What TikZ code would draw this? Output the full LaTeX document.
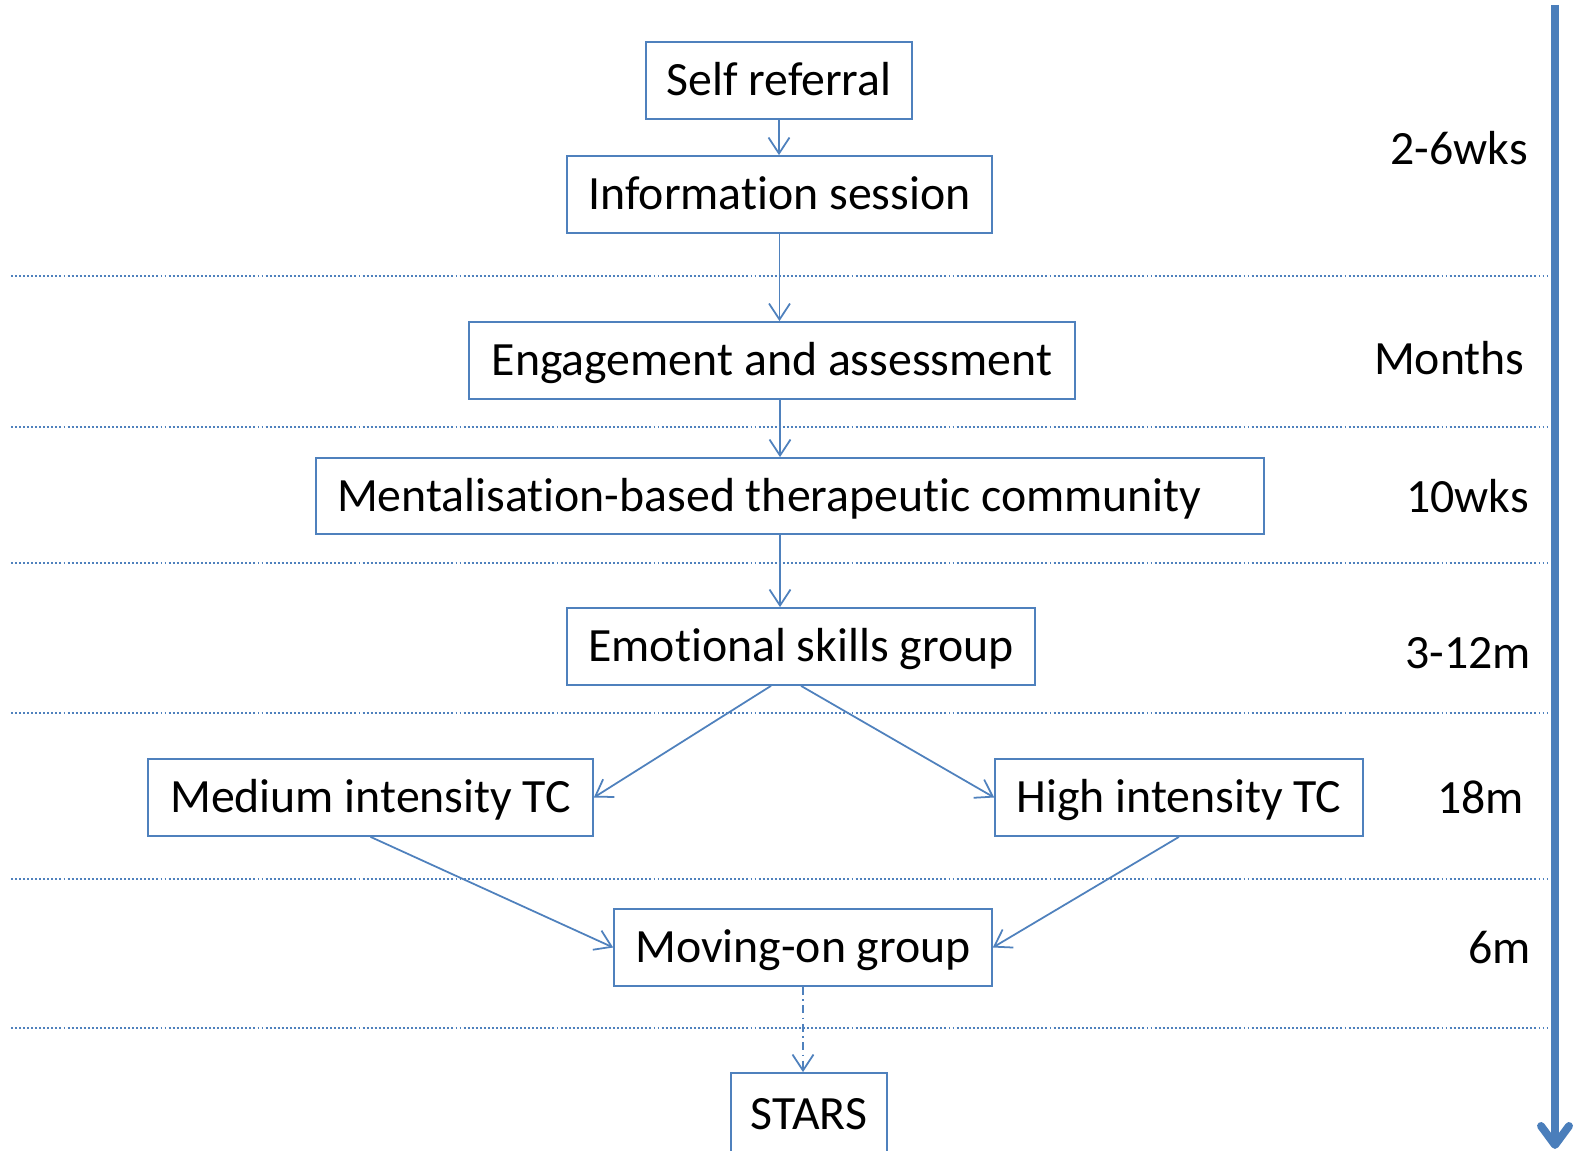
\documentclass[tikz,border=0pt]{standalone}
\usepackage{fontspec}
\setmainfont{Carlito}[Ligatures={NoCommon}]
\usetikzlibrary{arrows.meta}
\definecolor{obl}{HTML}{4F81BD}
\definecolor{obl2}{HTML}{4A7EBB}
\begin{document}
\begin{tikzpicture}[x=0.02cm,y=-0.02cm,
  box/.style={draw=obl, line width=1pt, minimum height=1.54cm, inner sep=0pt,
    font=\fontsize{27.2}{32}\selectfont, text height=17.5pt, text depth=0pt},
  arr/.style={draw=obl, line width=1pt, -{Straight Barb[length=0.32cm,width=0.42cm]}},
  dasharr/.style={arr, dash pattern=on 4.5pt off 2.5pt on 1pt off 2.5pt},
  dotl/.style={draw=obl, line width=1.1pt, dash pattern=on 1.1pt off 1.2pt},
  lab/.style={anchor=base east, inner sep=0pt, font=\fontsize{27.2}{32}\selectfont},
  bigarr/.style={draw=obl2, line width=4.5pt}
]
\useasboundingbox[fill=white] (0,0) rectangle (1573,1151);

% dotted separators
\foreach \yy in {276,427,563,713,879,1028}
  \draw[dotl] (11,\yy) -- (1548,\yy);

% boxes
\node[box, minimum width=5.32cm] (sr) at (779,80.5) {Self referral};
\node[box, minimum width=8.5cm] (info) at (779.5,194.5) {Information session};
\node[box, minimum width=12.12cm] (eng) at (772,360.5) {Engagement and assessment};
\node[box, minimum height=1.52cm, inner xsep=0.42cm] (ment) at (790,496) {\makebox[18.12cm][l]{Mentalisation-based therapeutic community}};
\node[box, minimum width=9.36cm] (emo) at (801,646.5) {Emotional skills group};
\node[box, minimum width=8.9cm] (med) at (370.5,797.5) {Medium intensity TC};
\node[box, minimum width=7.36cm] (high) at (1179,797.5) {High intensity TC};
\node[box, minimum width=7.56cm] (mov) at (803,947.5) {Moving-on group};
\node[box, minimum width=3.12cm, minimum height=1.66cm] (stars) at (809,1114.5) {STARS};

% connectors
\draw[arr] (sr.south) -- (sr.south |- info.north);
\draw[arr] (info.south) -- (info.south |- eng.north);
\draw[arr] ([xshift=0.16cm]eng.south) -- ([xshift=0.16cm]eng.south |- ment.north);
\draw[arr] ([xshift=-0.2cm]ment.south) -- ([xshift=-0.2cm]ment.south |- emo.north);
\draw[arr] ([xshift=-0.6cm]emo.south) -- (med.east);
\draw[arr] (emo.south) -- (high.west);
\draw[arr] (med.south) -- (mov.west);
\draw[arr] (high.south) -- (mov.east);
\draw[dasharr] (mov.south) -- (mov.south |- stars.north);

% time labels
\node[lab] (l1) at (1528,165) {2-6wks};
\node[lab] (l2) at (1525,375) {Months};
\node[lab] (l3) at (1529,513) {10wks};
\node[lab] (l4) at (1531,669) {3-12m};
\node[lab] (l5) at (1524,814) {18m};
\node[lab] (l6) at (1531,964) {6m};

% time arrow
\coordinate (tTop) at (1555,5);
\coordinate (tTip) at (1555,1145);
\draw[bigarr] (tTop) -- (tTip);
\draw[bigarr, line cap=round, line join=round] (1541,1126) -- (tTip) -- (1569,1126);
\end{tikzpicture}
\end{document}
